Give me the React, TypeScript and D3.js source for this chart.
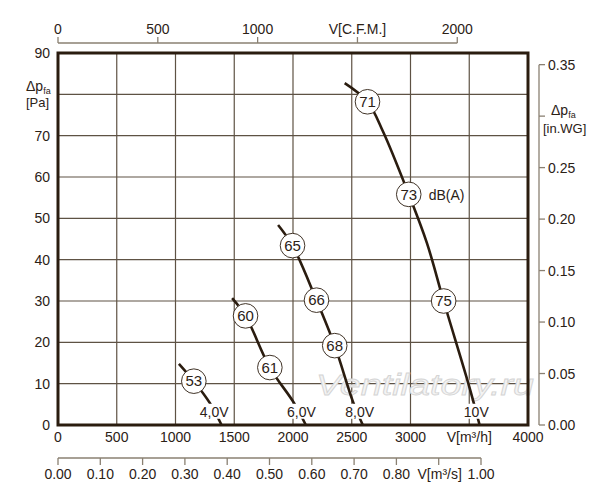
import React from "react";
import * as d3 from "d3";

// Fan curves: airflow Q [m³/h] vs static pressure P [Pa]
const curve4V: [number, number][] = [[1029, 14.8], [1156, 10.6], [1293, 5.3], [1392, 0]];
const curve6V: [number, number][] = [[1482, 30.7], [1596, 26.4], [1803, 13.9], [2007, 5.4], [2109, 0]];
const curve8V: [number, number][] = [[1873, 48.4], [1996, 43.4], [2200, 30.2], [2355, 19.2], [2511, 5.6], [2594, 0]];
const curve10V: [number, number][] = [[2440, 82.7], [2634, 78.2], [2766, 71.0], [2985, 55.8], [3140, 44.0], [3282, 30.0], [3500, 9.3], [3588, 0]];
const curves = [curve4V, curve6V, curve8V, curve10V];

// Voltage labels: [label, Q, P]
const voltLabels: [string, number, number][] = [["4,0V", 1329, 3.2], ["6,0V", 2072, 3.2], ["8,0V", 2568, 3.2], ["10V", 3560, 3.2]];

// Sound levels dB(A): [value, Q, P]
const dbMarks: [number, number, number][] = [
  [53, 1156, 10.6], [60, 1596, 26.4], [61, 1803, 13.9],
  [65, 1996, 43.4], [66, 2200, 30.2], [68, 2355, 19.2],
  [71, 2634, 78.2], [73, 2985, 55.8], [75, 3282, 30.0],
];

const xTicks = [0, 500, 1000, 1500, 2000, 2500, 3000, 3500, 4000];
const xTickLabels = ["0", "500", "1000", "1500", "2000", "2500", "3000", "V[m³/h]", "4000"];
const yTicks = [0, 10, 20, 30, 40, 50, 60, 70, 80, 90];
const yTickLabels = ["0", "10", "20", "30", "40", "50", "60", "70", "", "90"];
const cfmTicks = [0, 500, 1000, 1500, 2000];
const cfmLabels = ["0", "500", "1000", "V[C.F.M.]", "2000"];
const m3sTicks = [0, 0.1, 0.2, 0.3, 0.4, 0.5, 0.6, 0.7, 0.8, 0.9, 1.0];
const m3sLabels = ["0.00", "0.10", "0.20", "0.30", "0.40", "0.50", "0.60", "0.70", "0.80", "V[m³/s]", "1.00"];
const wgTicks = [0, 0.05, 0.1, 0.15, 0.2, 0.25, 0.3, 0.35];
const wgLabels = ["0.00", "0.05", "0.10", "0.15", "0.20", "0.25", "", "0.35"];

const CFM_TO_M3H = 1.69901;
const PA_PER_INWG = 249.089;

const TEXT = "#2b2116";
const AXIS = "#8a8072";
const GRID = "#5e5244";
const FRAME = "#2a1c0f";
const FONT = "'Liberation Sans', Arial, sans-serif";

export default function App() {
  const x = d3.scaleLinear().domain([0, 4000]).range([58, 528]);
  const y = d3.scaleLinear().domain([0, 90]).range([425, 53]);
  const xCfm = d3.scaleLinear().domain([0, 2000]).range([x(0), x(2000 * CFM_TO_M3H)]);
  const xM3s = d3.scaleLinear().domain([0, 1]).range([x(0), x(3600)]);
  const yWg = d3.scaleLinear().domain([0, 0.35]).range([y(0), y(0.35 * PA_PER_INWG)]);

  const line = d3
    .line<[number, number]>()
    .x((d) => x(d[0]))
    .y((d) => y(d[1]))
    .curve(d3.curveCatmullRom.alpha(0.5));

  const topY = 43;
  const botY = 458;
  const rightX = 539;

  return (
    <svg
      width={600}
      height={500}
      style={{ position: "absolute", left: 0, top: 0, background: "#fff" }}
      fontFamily={FONT}
    >
      <rect x={0} y={0} width={600} height={500} fill="#fff" />
      {/* grid */}
      {xTicks.slice(1, -1).map((t) => (
        <line key={"gx" + t} x1={x(t)} x2={x(t)} y1={y(90)} y2={y(0)} stroke={GRID} strokeWidth={1.2} />
      ))}
      {yTicks.slice(1, -1).map((t) => (
        <line key={"gy" + t} x1={x(0)} x2={x(4000)} y1={y(t)} y2={y(t)} stroke={GRID} strokeWidth={1.2} />
      ))}

      {/* watermark */}
      <text
        x={316}
        y={395}
        fontSize={29}
        fontStyle="italic"
        fill="#f3f3f3"
        stroke="#d4d4d4"
        strokeWidth={0.8}
        textLength={218}
        lengthAdjust="spacingAndGlyphs"
      >
        Ventilatory.ru
      </text>

      {/* curves */}
      {curves.map((c, i) => (
        <path key={"c" + i} d={line(c) || ""} fill="none" stroke={FRAME} strokeWidth={2.6} />
      ))}

      {/* voltage labels */}
      {voltLabels.map(([lab, q, p]) => {
        const w = lab.length * 8;
        return (
          <g key={lab}>
            <rect x={x(q) - w / 2 - 1} y={y(p) - 8} width={w + 2} height={15} fill="#fff" />
            <text x={x(q)} y={y(p) + 5} textAnchor="middle" fontSize={14} fill={TEXT}>
              {lab}
            </text>
          </g>
        );
      })}

      {/* dB marks */}
      {dbMarks.map(([v, q, p]) => (
        <g key={"db" + v}>
          <circle cx={x(q)} cy={y(p)} r={12.3} fill="#fff" stroke={FRAME} strokeWidth={0.9} />
          <text x={x(q)} y={y(p) + 5.2} textAnchor="middle" fontSize={15} fill={TEXT}>
            {v}
          </text>
        </g>
      ))}
      <text x={x(2985) + 20} y={y(55.8) + 5.2} fontSize={14} fill={TEXT}>
        dB(A)
      </text>

      {/* frame */}
      <rect x={x(0)} y={y(90)} width={x(4000) - x(0)} height={y(0) - y(90)} fill="none" stroke={FRAME} strokeWidth={3} />

      {/* bottom m3/h labels */}
      {xTicks.map((t, i) => (
        <text key={"xl" + t} x={x(t)} y={442} textAnchor="middle" fontSize={14} fill={TEXT}>
          {xTickLabels[i]}
        </text>
      ))}
      {/* left labels */}
      {yTicks.map((t, i) =>
        yTickLabels[i] ? (
          <text key={"yl" + t} x={50} y={y(t) + 5} textAnchor="end" fontSize={14} fill={TEXT}>
            {yTickLabels[i]}
          </text>
        ) : null
      )}
      <text x={26} y={91} fontSize={14} fill={TEXT}>
        Δp<tspan fontSize={9} dy={3}>fa</tspan>
      </text>
      <text x={26} y={107} fontSize={13} fill={TEXT}>
        [Pa]
      </text>

      {/* top CFM axis */}
      <line x1={xCfm(0)} x2={xCfm(2000)} y1={topY} y2={topY} stroke={AXIS} strokeWidth={1.3} />
      {cfmTicks.map((t, i) => (
        <g key={"cf" + t}>
          <line x1={xCfm(t)} x2={xCfm(t)} y1={topY} y2={topY - 6} stroke={AXIS} strokeWidth={1.3} />
          <text x={xCfm(t)} y={34} textAnchor="middle" fontSize={14} fill={TEXT}>
            {cfmLabels[i]}
          </text>
        </g>
      ))}

      {/* bottom m3/s axis */}
      <line x1={xM3s(0)} x2={xM3s(1)} y1={botY} y2={botY} stroke={AXIS} strokeWidth={1.3} />
      {m3sTicks.map((t, i) => (
        <g key={"ms" + i}>
          <line x1={xM3s(t)} x2={xM3s(t)} y1={botY} y2={botY + 7} stroke={AXIS} strokeWidth={1.3} />
          <text
            x={i === 9 ? xM3s(t) + 1 : xM3s(t)}
            y={479}
            textAnchor="middle"
            fontSize={14}
            fill={TEXT}
          >
            {m3sLabels[i]}
          </text>
        </g>
      ))}

      {/* right in.WG axis */}
      <line x1={rightX} x2={rightX} y1={yWg(0.35)} y2={yWg(0)} stroke={AXIS} strokeWidth={1.3} />
      {wgTicks.map((t, i) => (
        <g key={"wg" + i}>
          <line x1={rightX} x2={rightX + 6} y1={yWg(t)} y2={yWg(t)} stroke={AXIS} strokeWidth={1.3} />
          {wgLabels[i] ? (
            <text x={548} y={yWg(t) + 5} fontSize={14} fill={TEXT}>
              {wgLabels[i]}
            </text>
          ) : null}
        </g>
      ))}
      <text x={551} y={115} fontSize={14} fill={TEXT}>
        Δp<tspan fontSize={9} dy={3}>fa</tspan>
      </text>
      <text x={543} y={133} fontSize={13} fill={TEXT}>
        [in.WG]
      </text>
    </svg>
  );
}
